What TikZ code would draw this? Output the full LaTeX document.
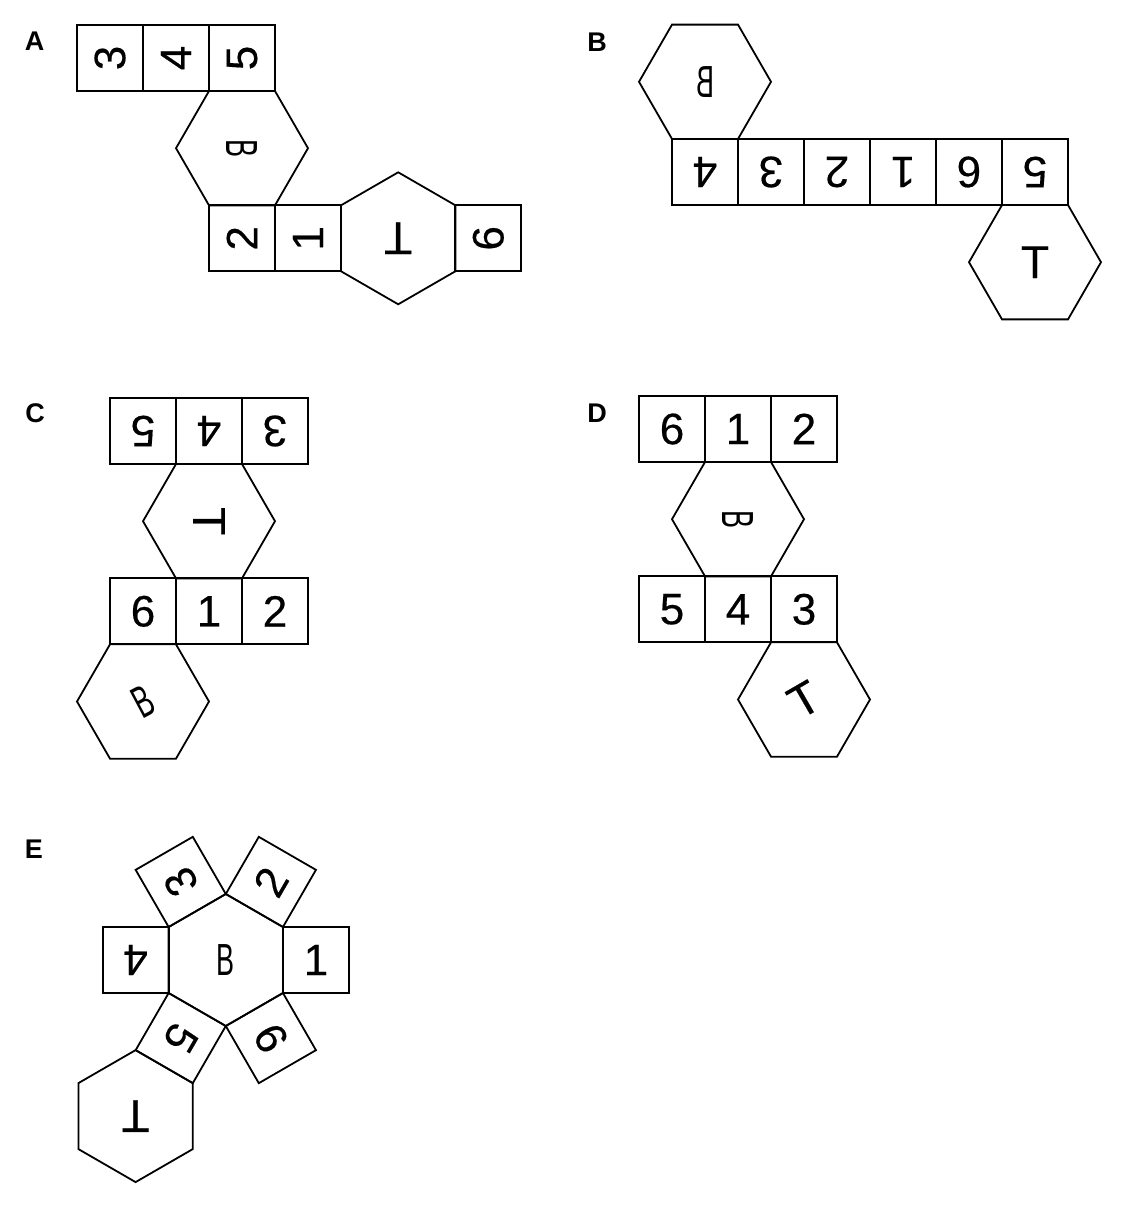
\documentclass[tikz,border=0pt]{standalone}
\usepackage{fontspec}
\setmainfont{Liberation Sans}
\newfontfamily\digitfont{Liberation Sans}[FakeBold=0.4]
\usepackage{graphicx}
\begin{document}
\begin{tikzpicture}[x=1pt,y=-1pt,line width=1.8pt,
  sq/.style={draw, minimum size=66pt, inner sep=0pt, font=\digitfont\fontsize{44}{44}\selectfont},
  lab/.style={font=\fontsize{27}{27}\selectfont\bfseries},
  hexT/.style={font=\digitfont\fontsize{46}{46}\selectfont, inner sep=0pt},
  hexB/.style={font=\fontsize{45}{45}\selectfont, inner sep=0pt},
  flathex/.pic={\draw (0:66)--(60:66)--(120:66)--(180:66)--(240:66)--(300:66)--cycle;},
  pointhex/.pic={\draw (30:66)--(90:66)--(150:66)--(210:66)--(270:66)--(330:66)--cycle;}]
\useasboundingbox (0,0) rectangle (1124,1214);

% ---------- A ----------
\node[lab] (LA) at (34.5,41.5) {A};
\node[sq, rotate=90] (A3) at (110,58) {3};
\node[sq, rotate=90] (A4) at (176,58) {4};
\node[sq, rotate=90] (A5) at (242,58) {5};
\pic (AhB) at (242,148.2) {flathex};
\node[hexB, rotate=-90] (AB) at (242,148.2) {\scalebox{0.6}[1]{B}};
\node[sq, rotate=90] (A2) at (242,238.3) {2};
\node[sq, rotate=90] (A1) at (308,238.3) {1};
\pic (AhT) at (398.2,238.3) {pointhex};
\node[hexT, rotate=180] (AT) at (398.2,238.3) {T};
\node[sq, rotate=90] (A6) at (488.3,238.3) {6};

% ---------- B ----------
\node[lab] (LB) at (597,42) {B};
\pic (BhB) at (705,81.8) {flathex};
\node[hexB] (BB) at (705,81.8) {\scalebox{-0.6}[1]{B}};
\node[sq, rotate=180] (B4) at (705,172) {4};
\node[sq, rotate=180] (B3) at (771,172) {3};
\node[sq, rotate=180] (B2) at (837,172) {2};
\node[sq, rotate=180] (B1) at (903,172) {1};
\node[sq, rotate=180] (B6) at (969,172) {6};
\node[sq, rotate=180] (B5) at (1035,172) {5};
\pic (BhT) at (1035,262.2) {flathex};
\node[hexT] (BT) at (1035,262.2) {T};

% ---------- C ----------
\node[lab] (LC) at (35,413) {C};
\node[sq, rotate=180] (C5) at (143,431) {5};
\node[sq, rotate=180] (C4) at (209,431) {4};
\node[sq, rotate=180] (C3) at (275,431) {3};
\pic (ChT) at (209,521.2) {flathex};
\node[hexT, rotate=-90] (CT) at (209,521.2) {T};
\node[sq] (C6) at (143,611.3) {6};
\node[sq] (C1) at (209,611.3) {1};
\node[sq] (C2) at (275,611.3) {2};
\pic (ChB) at (143,701.5) {flathex};
\node[hexB, rotate=28] (CB) at (143,701.5) {\scalebox{0.6}[1]{B}};

% ---------- D ----------
\node[lab] (LD) at (597,413) {D};
\node[sq] (D6) at (672,429) {6};
\node[sq] (D1) at (738,429) {1};
\node[sq] (D2) at (804,429) {2};
\pic (DhB) at (738,519.2) {flathex};
\node[hexB, rotate=-90] (DB) at (738,519.2) {\scalebox{0.6}[1]{B}};
\node[sq] (D5) at (672,609.3) {5};
\node[sq] (D4) at (738,609.3) {4};
\node[sq] (D3) at (804,609.3) {3};
\pic (DhT) at (804,699.5) {flathex};
\node[hexT, rotate=30] (DT) at (804,699.5) {T};

% ---------- E ----------
\node[lab] (LE) at (34,849.5) {E};
\pic (EhB) at (225.8,960) {pointhex};
\node[hexB] (EB) at (225.8,960) {\scalebox{0.6}[1]{B}};
\node[sq] (E1) at (315.96,960) {1};
\node[sq, rotate=60] (E2) at (270.88,881.92) {2};
\node[sq, rotate=120] (E3) at (180.72,881.92) {3};
\node[sq, rotate=180] (E4) at (135.64,960) {4};
\node[sq, rotate=240] (E5) at (180.72,1038.08) {5};
\node[sq, rotate=300] (E6) at (270.88,1038.08) {6};
\pic (EhT) at (135.6,1116.1) {pointhex};
\node[hexT, rotate=180] (ET) at (135.6,1116.1) {T};
\end{tikzpicture}
\end{document}
